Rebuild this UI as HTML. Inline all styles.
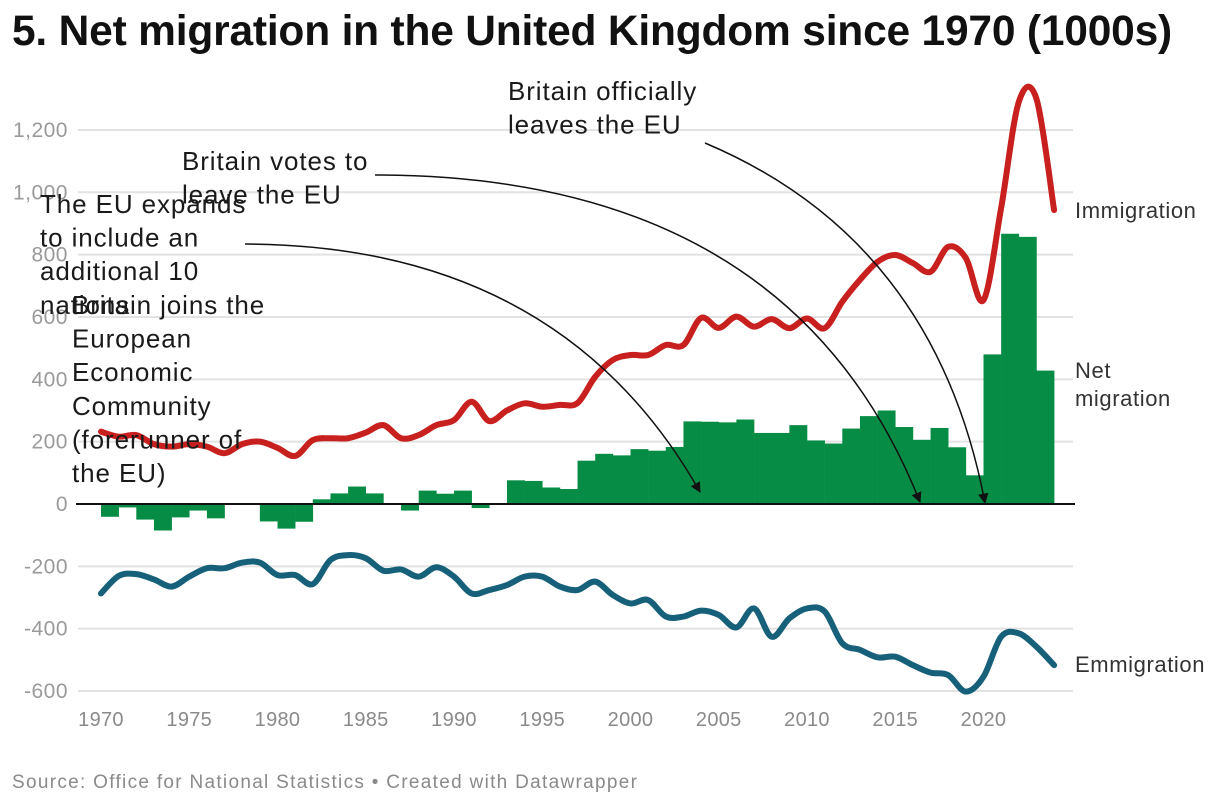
<!DOCTYPE html>
<html><head><meta charset="utf-8">
<style>
body{margin:0;background:#fff;width:1220px;height:808px;overflow:hidden;font-family:"Liberation Sans",Arial,sans-serif;}
h1{position:absolute;left:12px;top:8px;margin:0;font-size:42.5px;font-weight:bold;color:#111;letter-spacing:-0.2px;white-space:nowrap;}
.src{position:absolute;left:12px;top:772px;font-size:19px;letter-spacing:1.3px;color:#8a8a8a;white-space:nowrap;}
svg{position:absolute;left:0;top:0;}
</style></head>
<body>
<h1>5. Net migration in the United Kingdom since 1970 (1000s)</h1>
<svg id="chart" width="1220" height="808"></svg>
<div class="src">Source: Office for National Statistics • Created with Datawrapper</div>
<script>
const years=[1970,1971,1972,1973,1974,1975,1976,1977,1978,1979,1980,1981,1982,1983,1984,1985,1986,1987,1988,1989,1990,1991,1992,1993,1994,1995,1996,1997,1998,1999,2000,2001,2002,2003,2004,2005,2006,2007,2008,2009,2010,2011,2012,2013,2014,2015,2016,2017,2018,2019,2020,2021,2022,2023,2024];
const netMigration=[-41,-11,-50,-85,-43,-21,-46,-2,3,-56,-79,-57,15,34,56,34,2,-21,43,33,43,-13,0,76,74,53,48,139,161,156,176,171,183,265,264,262,271,228,228,253,204,194,242,282,300,247,206,244,182,92,480,867,857,428];
const immigration=[232,216,221,192,184,192,184,163,192,200,180,154,205,211,211,229,253,211,221,253,269,328,266,300,323,312,318,324,408,462,478,478,510,510,597,565,601,569,593,564,595,564,649,719,777,799,773,745,825,789,654,950,1290,1300,943];
const emigration=[-287,-231,-225,-242,-265,-233,-206,-206,-188,-188,-228,-228,-257,-180,-164,-174,-214,-210,-233,-203,-233,-287,-276,-260,-233,-233,-265,-276,-249,-292,-319,-308,-361,-361,-342,-356,-396,-335,-426,-367,-335,-345,-447,-468,-492,-490,-517,-541,-549,-602,-554,-426,-415,-458,-517];
const yTicks=[-600,-400,-200,0,200,400,600,800,1000,1200];
const xTicks=[1970,1975,1980,1985,1990,1995,2000,2005,2010,2015,2020];

const NS='http://www.w3.org/2000/svg';
const svg=document.getElementById('chart');
const X=y=>101+(y-1970)*17.65;
const Y=v=>504-v*0.3117;
function mk(tag,attrs,parent){const e=document.createElementNS(NS,tag);for(const k in attrs)e.setAttribute(k,attrs[k]);(parent||svg).appendChild(e);return e;}

yTicks.forEach(t=>{
  if(t!==0){const g=mk('line',{x1:78,x2:1073,y1:Y(t),y2:Y(t),stroke:'#e2e2e2','stroke-width':2});
  
  }
  const l=mk('text',{x:68,y:Y(t)+7,'text-anchor':'end','font-size':21,'letter-spacing':0.5,fill:'#9a9a9a'});
  l.textContent=t.toLocaleString('en-US');
  
  
});
xTicks.forEach(t=>{
  const l=mk('text',{x:X(t),y:726,'text-anchor':'middle','font-size':20,'letter-spacing':0.3,fill:'#8a8a8a'});
  l.textContent=t;
  
  
});
const bw=17.65;
netMigration.forEach((v,i)=>{
  const x0=X(years[i]);
  const y0=Math.min(Y(v),Y(0)),h=Math.abs(Y(v)-Y(0));
  const r=mk('rect',{x:x0,y:y0,width:bw+0.3,height:h,fill:'#078c45'});
  
  
});
const zl=mk('line',{x1:76,x2:1075,y1:Y(0),y2:Y(0),stroke:'#111','stroke-width':2});


function smooth(vals){
  const p=vals.map((v,i)=>[X(years[i]),Y(v)]);
  let d='M'+p[0][0]+','+p[0][1];
  for(let i=0;i<p.length-1;i++){
    const p0=p[i-1]||p[i],p1=p[i],p2=p[i+1],p3=p[i+2]||p2;
    const c1=[p1[0]+(p2[0]-p0[0])/6,p1[1]+(p2[1]-p0[1])/6];
    const c2=[p2[0]-(p3[0]-p1[0])/6,p2[1]-(p3[1]-p1[1])/6];
    d+=' C'+c1[0]+','+c1[1]+' '+c2[0]+','+c2[1]+' '+p2[0]+','+p2[1];
  }
  return d;
}
const im=mk('path',{d:smooth(immigration),fill:'none',stroke:'#c8201e','stroke-width':6,'stroke-linecap':'round','stroke-linejoin':'round'});


const em=mk('path',{d:smooth(emigration),fill:'none',stroke:'#17607a','stroke-width':6,'stroke-linecap':'round','stroke-linejoin':'round'});


[['Immigration',1075,218],['Net',1075,378],['migration',1075,406],['Emmigration',1075,672]].forEach(a=>{
  const t=mk('text',{x:a[1],y:a[2],'font-size':22,'letter-spacing':0.6,fill:'#333'});
  t.textContent=a[0];
  
  
});
mk('defs',{}).innerHTML='<marker id="ah" viewBox="0 0 10 10" refX="9" refY="5" markerWidth="7" markerHeight="7" orient="auto-start-reverse"><path d="M0,0 L10,5 L0,10 z" fill="#111"/></marker>';
[['M245,244 Q560,245 700,492'],['M375,175 Q790,175 920,502'],['M705,143 Q935,240 985,503']].forEach(a=>{
  const p=mk('path',{d:a[0],fill:'none',stroke:'#111','stroke-width':1.5,'marker-end':'url(#ah)'});
  
  
});
function note(lines,x,y){
  lines.forEach((s,i)=>{
    const t=mk('text',{x:x,y:y+i*33.6,'font-size':26,'letter-spacing':0.9,fill:'#1a1a1a'});
    t.textContent=s;
    
    
  });
}
note(['Britain officially','leaves the EU'],508,100);
note(['Britain votes to','leave the EU'],182,170);
note(['The EU expands','to include an','additional 10','nations'],40,213);
note(['Britain joins the','European','Economic','Community','(forerunner of','the EU)'],72,314);
</script>
</body></html>
